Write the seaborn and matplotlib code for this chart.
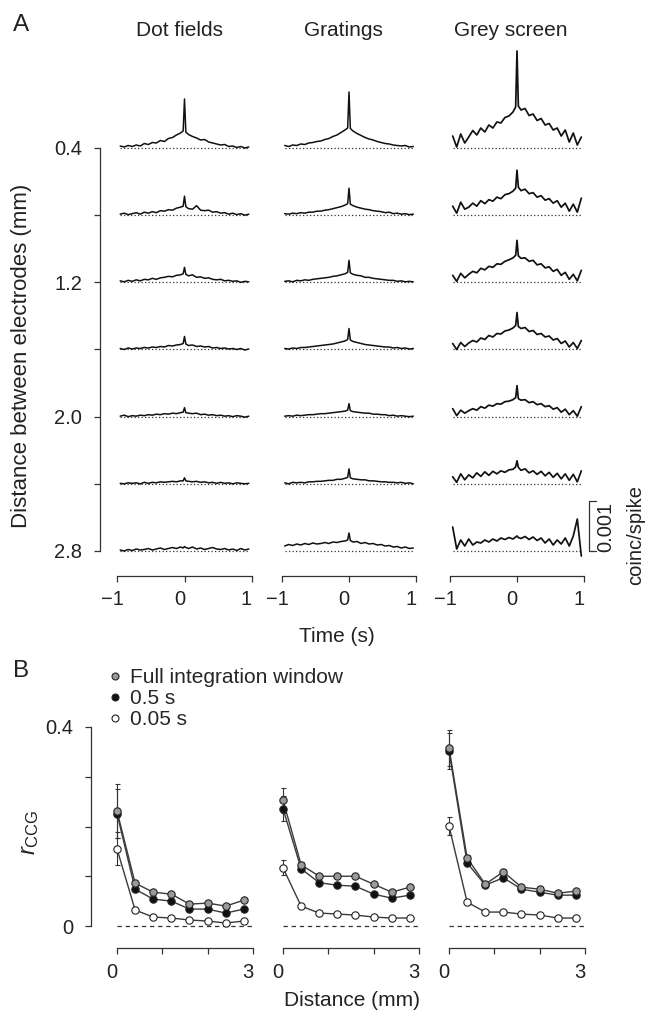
import numpy as np
import pandas as pd
import matplotlib
matplotlib.use("Agg")
import matplotlib.pyplot as plt
import matplotlib.transforms as mtransforms
from matplotlib.lines import Line2D
import seaborn as sns

sns.set_theme(style="ticks")
plt.rcParams['font.family'] = ['Liberation Sans', 'DejaVu Sans']
plt.rcParams['mathtext.fontset'] = 'custom'
plt.rcParams['mathtext.rm'] = 'Liberation Sans'
plt.rcParams['mathtext.it'] = 'Liberation Sans:italic'

# ------------------------------------------------------------------ data
conditions = ["Dot fields", "Gratings", "Grey screen"]
distances_A = [0.4, 0.8, 1.2, 1.6, 2.0, 2.4, 2.8]          # mm
dist_ticklabels_A = ["0.4", "", "1.2", "", "2.0", "", "2.8"]
time_ticks = [-1, 0, 1]
time_ticklabels = ["\u22121", "0", "1"]

lag_s = [-0.96, -0.90, -0.84, -0.78, -0.72, -0.66, -0.60, -0.54, -0.48, -0.42, -0.36, -0.30,
         -0.24, -0.18, -0.12, -0.06, -0.02, 0.0, 0.02, 0.06, 0.12, 0.18, 0.24, 0.30, 0.36,
         0.42, 0.48, 0.54, 0.60, 0.66, 0.72, 0.78, 0.84, 0.90, 0.96]

# CCG values in units of 1e-4 coinc/spike, one list per electrode distance
ccg_dot_fields = [
    [0.4,0.2,0.5,0.3,0.6,0.4,0.9,0.7,1.1,1.0,1.5,1.3,1.9,2.1,2.6,3.0,3.4,9.8,3.2,2.7,2.3,2.0,1.6,1.7,1.2,1.0,0.8,0.6,0.7,0.3,0.4,0.1,0.3,0.0,0.2],
    [0.2,0.4,0.1,0.3,0.5,0.2,0.6,0.4,0.7,0.5,0.9,0.8,1.1,1.0,1.4,1.6,1.8,3.8,1.7,1.3,1.2,1.9,1.0,0.9,1.0,0.6,0.7,0.4,0.5,0.2,0.4,0.1,0.3,0.0,0.2],
    [0.3,0.1,0.4,0.2,0.5,0.3,0.6,0.5,0.8,0.6,0.9,1.0,1.2,1.1,1.4,1.5,1.7,3.0,1.6,1.3,1.5,1.0,1.1,0.8,0.9,0.6,0.5,0.6,0.3,0.4,0.2,0.3,0.0,0.2,0.1],
    [0.2,0.0,0.3,0.1,0.3,0.2,0.4,0.3,0.5,0.4,0.6,0.5,0.8,0.7,0.9,1.0,1.2,2.6,1.1,0.8,0.9,0.6,0.7,0.5,0.6,0.3,0.4,0.2,0.3,0.1,0.2,0.0,0.2,-0.1,0.1],
    [0.1,0.3,0.0,0.2,0.1,0.3,0.2,0.4,0.3,0.5,0.4,0.6,0.5,0.7,0.6,0.8,0.9,1.8,0.8,0.7,0.6,0.7,0.4,0.5,0.3,0.4,0.2,0.3,0.1,0.2,0.0,0.2,0.1,-0.1,0.1],
    [0.1,0.0,0.2,0.1,0.2,0.0,0.3,0.1,0.3,0.2,0.4,0.3,0.4,0.5,0.4,0.6,0.6,1.2,0.6,0.5,0.4,0.5,0.3,0.4,0.2,0.3,0.1,0.3,0.1,0.2,0.0,0.2,0.1,0.0,0.1],
    [0.2,0.0,0.3,0.1,0.4,0.2,0.3,0.5,0.2,0.4,0.6,0.3,0.5,0.7,0.5,0.8,0.6,0.9,0.7,0.5,0.8,0.4,0.6,0.3,0.5,0.7,0.4,0.3,0.5,0.2,0.4,0.1,0.5,0.2,0.4],
]
ccg_gratings = [
    [0.5,0.3,0.6,0.5,0.8,0.7,1.0,1.1,1.3,1.4,1.7,1.9,2.3,2.6,3.1,3.6,4.0,11.2,3.9,3.4,2.9,2.5,2.1,1.8,1.6,1.3,1.1,0.9,0.8,0.6,0.5,0.4,0.5,0.2,0.3],
    [0.3,0.2,0.4,0.3,0.5,0.4,0.6,0.6,0.8,0.8,1.0,1.1,1.3,1.5,1.7,2.0,2.3,5.4,2.2,1.9,1.6,1.4,1.2,1.1,0.9,0.8,0.7,0.5,0.6,0.3,0.4,0.2,0.3,0.1,0.2],
    [0.2,0.3,0.1,0.4,0.3,0.5,0.4,0.6,0.7,0.8,0.9,1.0,1.2,1.3,1.5,1.7,2.0,4.4,1.9,1.6,1.4,1.3,1.0,1.0,0.8,0.7,0.6,0.5,0.4,0.4,0.2,0.3,0.1,0.2,0.1],
    [0.2,0.1,0.3,0.2,0.4,0.4,0.5,0.6,0.7,0.8,0.9,1.0,1.1,1.3,1.5,1.7,2.0,4.2,1.9,1.6,1.4,1.2,1.0,0.9,0.8,0.7,0.6,0.5,0.5,0.3,0.4,0.2,0.3,0.1,0.2],
    [0.1,0.2,0.1,0.3,0.2,0.3,0.4,0.4,0.5,0.6,0.6,0.7,0.8,0.9,1.0,1.1,1.3,2.6,1.2,1.0,0.9,0.8,0.7,0.7,0.5,0.5,0.4,0.4,0.2,0.3,0.1,0.2,0.1,0.0,0.1],
    [0.2,0.0,0.3,0.2,0.3,0.2,0.4,0.4,0.5,0.5,0.6,0.7,0.7,0.9,0.9,1.1,1.3,3.0,1.2,1.0,0.9,0.8,0.8,0.6,0.6,0.5,0.4,0.4,0.3,0.3,0.2,0.3,0.1,0.2,0.0],
    [1.0,1.3,1.1,1.4,1.2,1.5,1.3,1.6,1.4,1.5,1.7,1.5,1.8,1.7,1.9,2.0,2.2,3.6,2.1,1.8,1.9,1.5,1.7,1.4,1.5,1.2,1.3,1.0,1.1,0.8,0.9,0.6,0.8,0.5,0.6],
]
ccg_grey_screen = [
    [2.4,0.2,2.8,1.0,2.2,3.5,2.6,4.0,3.2,4.6,4.0,5.2,5.0,6.1,6.4,7.2,8.2,19.4,8.4,7.6,7.9,6.5,6.8,5.5,5.9,4.6,4.9,3.6,4.0,2.4,3.6,1.2,3.0,0.6,2.2],
    [1.8,0.4,2.6,1.2,1.6,2.4,1.8,2.9,2.3,3.1,2.8,3.6,3.3,4.1,4.3,4.8,5.4,9.0,5.6,4.9,5.2,4.3,4.5,3.6,3.9,3.0,3.3,2.4,2.9,1.6,2.4,0.8,2.2,0.6,3.4],
    [1.4,0.2,1.8,0.9,1.6,2.2,1.9,2.8,2.5,3.2,3.0,3.7,3.6,4.2,4.5,4.9,5.4,8.4,5.3,4.8,4.9,4.2,4.4,3.5,3.7,2.9,3.1,2.2,2.6,1.4,2.0,0.6,1.6,0.3,2.4],
    [1.2,0.0,1.4,0.6,1.3,1.8,1.5,2.3,2.0,2.8,2.5,3.2,3.1,3.7,3.9,4.3,4.8,7.4,4.6,4.2,4.4,3.6,3.8,3.0,3.2,2.5,2.7,1.9,2.2,1.2,1.7,0.5,1.4,0.2,1.8],
    [1.6,0.2,1.3,0.7,1.2,1.6,1.3,2.0,1.7,2.3,2.1,2.6,2.5,3.0,3.1,3.4,3.8,6.2,3.6,3.3,3.4,2.8,3.0,2.4,2.6,2.0,2.2,1.5,1.8,0.9,1.5,0.4,1.2,0.1,2.0],
    [1.4,0.3,2.0,0.8,1.8,1.2,2.2,1.5,2.4,1.7,2.5,2.0,2.6,2.3,2.8,2.9,3.4,4.6,3.3,2.7,3.0,2.2,2.6,1.9,2.5,1.6,2.3,1.3,2.1,1.0,2.0,0.7,1.9,0.4,2.6],
    [4.8,0.4,2.2,1.0,2.4,1.2,1.8,1.6,2.2,1.8,2.4,2.0,2.6,2.3,2.7,2.4,2.8,3.0,2.7,2.5,2.9,2.3,2.8,2.1,2.6,1.6,2.4,1.2,2.2,1.4,2.6,1.0,3.0,6.4,-1.0],
]
all_traces = [ccg_dot_fields, ccg_gratings, ccg_grey_screen]
scalebar_value = 10.0      # 10 x 1e-4 = 0.001 coinc/spike
scalebar_label = "0.001"

# Panel B
distance_B = [0.0, 0.4, 0.8, 1.2, 1.6, 2.0, 2.4, 2.8]
windows = ["Full integration window", "0.5 s", "0.05 s"]
r_full = {
    "Dot fields":  [0.231, 0.086, 0.068, 0.064, 0.044, 0.046, 0.040, 0.052],
    "Gratings":    [0.253, 0.123, 0.100, 0.100, 0.100, 0.084, 0.068, 0.078],
    "Grey screen": [0.358, 0.137, 0.084, 0.109, 0.078, 0.074, 0.066, 0.070],
}
r_half = {
    "Dot fields":  [0.226, 0.074, 0.054, 0.050, 0.034, 0.034, 0.026, 0.034],
    "Gratings":    [0.236, 0.115, 0.087, 0.082, 0.080, 0.064, 0.056, 0.062],
    "Grey screen": [0.352, 0.127, 0.082, 0.097, 0.074, 0.068, 0.062, 0.062],
}
r_short = {
    "Dot fields":  [0.155, 0.032, 0.018, 0.016, 0.012, 0.010, 0.006, 0.010],
    "Gratings":    [0.117, 0.040, 0.026, 0.024, 0.022, 0.018, 0.016, 0.016],
    "Grey screen": [0.201, 0.048, 0.028, 0.028, 0.024, 0.022, 0.016, 0.016],
}
err_full = {
    "Dot fields":  [0.055, 0.005, 0.004, 0.004, 0.004, 0.004, 0.004, 0.004],
    "Gratings":    [0.025, 0.005, 0.004, 0.004, 0.004, 0.004, 0.004, 0.004],
    "Grey screen": [0.036, 0.005, 0.004, 0.005, 0.004, 0.004, 0.004, 0.004],
}
err_half = {
    "Dot fields":  [0.050, 0.005, 0.004, 0.004, 0.004, 0.004, 0.004, 0.004],
    "Gratings":    [0.025, 0.005, 0.004, 0.004, 0.004, 0.004, 0.004, 0.004],
    "Grey screen": [0.036, 0.005, 0.004, 0.005, 0.004, 0.004, 0.004, 0.004],
}
err_short = {
    "Dot fields":  [0.033, 0.003, 0.002, 0.002, 0.002, 0.002, 0.002, 0.002],
    "Gratings":    [0.015, 0.003, 0.002, 0.002, 0.002, 0.002, 0.002, 0.002],
    "Grey screen": [0.018, 0.003, 0.002, 0.002, 0.002, 0.002, 0.002, 0.002],
}
r_ticks = [0.0, 0.1, 0.2, 0.3, 0.4]
r_ticklabels = ["0", "", "", "", "0.4"]
dist_ticks_B = [0, 1, 2, 3]
dist_ticklabels_B = ["0", "", "", "3"]

# ------------------------------------------------------------------ layout helpers
W, H = 646, 1011
fig = plt.figure(figsize=(W / 100, H / 100), dpi=100)
fig.patch.set_facecolor("white")
INK = "#222222"
AXC = "#333333"
FS_TICK = 14.5
FS_LAB = 15
LABEL_SHIFT = mtransforms.ScaledTranslation(-5 / 100, 0, fig.dpi_scale_trans)


def rect_px(left, top, right, bottom):
    return [left / W, 1 - bottom / H, (right - left) / W, (bottom - top) / H]


def ftext(x, y, s, **kw):
    fig.text(x / W, 1 - y / H, s, **kw)


def shift_xticklabels(ax):
    for lab in ax.get_xticklabels():
        lab.set_transform(lab.get_transform() + LABEL_SHIFT)


# ------------------------------------------------------------------ panel A
A_PX_04 = 148.0
A_PX_PER_MM = 403.0 / 2.4
A_Y_TOP, A_Y_BOT = -0.30, 2.95


def a_ypx(d):
    return A_PX_04 + (d - 0.4) * A_PX_PER_MM


A_COL_CX = [184.5, 349.0, 517.0]
A_TITLE_X = [180, 343, 511]
A_PX_PER_S = 67.0
A_XLIM = (-1.05, 1.05)
MM_PER_UNIT = 5.0 / A_PX_PER_MM     # 1e-4 coinc/spike drawn as 5 px
TRACE_LW = [1.1, 1.1, 1.25]

for i, (cond, traces) in enumerate(zip(conditions, all_traces)):
    cx = A_COL_CX[i]
    ax = fig.add_axes(rect_px(cx + A_XLIM[0] * A_PX_PER_S, a_ypx(A_Y_TOP),
                              cx + A_XLIM[1] * A_PX_PER_S, a_ypx(A_Y_BOT)))
    ax.set_facecolor("none")
    rows = []
    for d, vals in zip(distances_A, traces):
        for t, v in zip(lag_s, vals):
            rows.append({"lag": t, "y": d - v * MM_PER_UNIT, "dist": d})
    df = pd.DataFrame(rows)
    ax.hlines(distances_A, lag_s[0], lag_s[-1], colors=AXC,
              linestyles=(0, (1, 1.8)), lw=0.9)
    sns.lineplot(data=df, x="lag", y="y", units="dist", estimator=None, sort=False,
                 color="#111111", lw=TRACE_LW[i], ax=ax)
    ax.set_xlim(*A_XLIM)
    ax.set_ylim(A_Y_BOT, A_Y_TOP)
    ax.set_xlabel("")
    ax.set_ylabel("")
    for s in ["top", "right", "left"]:
        ax.spines[s].set_visible(False)
    ax.spines["bottom"].set_bounds(-1, 1)
    ax.spines["bottom"].set_linewidth(0.9)
    ax.spines["bottom"].set_color(AXC)
    ax.set_xticks(time_ticks)
    ax.set_xticklabels(time_ticklabels)
    ax.set_yticks([])
    ax.tick_params(axis="x", direction="out", length=4.3, width=0.9, color=AXC,
                   pad=5.5, labelsize=FS_TICK, labelcolor=INK)
    shift_xticklabels(ax)
    ftext(A_TITLE_X[i], 31, cond, ha="center", va="center", fontsize=FS_LAB, color=INK)
    if i == 2:
        sb_x = 1.08
        y0 = distances_A[-1]
        y1 = distances_A[-1] - scalebar_value * MM_PER_UNIT
        ax.plot([sb_x + 0.1, sb_x, sb_x, sb_x + 0.1], [y1, y1, y0, y0],
                color=AXC, lw=0.9, clip_on=False)

# left distance axis of panel A
axL = fig.add_axes(rect_px(100, a_ypx(A_Y_TOP), 110, a_ypx(A_Y_BOT)))
axL.set_facecolor("none")
axL.set_ylim(A_Y_BOT, A_Y_TOP)
axL.set_xticks([])
for s in ["top", "right", "bottom"]:
    axL.spines[s].set_visible(False)
axL.spines["left"].set_bounds(distances_A[0], distances_A[-1])
axL.spines["left"].set_linewidth(0.9)
axL.spines["left"].set_color(AXC)
axL.set_yticks(distances_A)
axL.set_yticklabels(dist_ticklabels_A)
axL.tick_params(axis="y", direction="out", length=4.5, width=0.9, color=AXC,
                pad=8.5, labelsize=FS_TICK, labelcolor=INK)

ftext(21, 25, "A", ha="center", va="center", fontsize=17.5, color=INK)
ftext(22, 356, "Distance between electrodes (mm)", rotation=90, ha="center",
      va="center", fontsize=16, color=INK)
ftext(337, 637, "Time (s)", ha="center", va="center", fontsize=FS_LAB, color=INK)
ftext(606, 527, scalebar_label, rotation=90, ha="center", va="center",
      fontsize=FS_TICK, color=INK)
ftext(636, 535, "coinc/spike", rotation=90, ha="center", va="center",
      fontsize=FS_TICK, color=INK)

# ------------------------------------------------------------------ panel B
B_PX_0 = 926.0
B_PX_PER_R = 497.5
B_YLIM = (-0.0442, 0.42)


def b_ypx(v):
    return B_PX_0 - v * B_PX_PER_R


B_X0 = [117.0, 283.0, 449.0]
B_PX_PER_MM = 45.3
face = {"Full integration window": "#9a9a9a", "0.5 s": "#111111", "0.05 s": "#ffffff"}
draw_order = ["0.05 s", "0.5 s", "Full integration window"]

for i, cond in enumerate(conditions):
    xl = (-0.574 if i == 0 else -0.25, 3.25)
    ax = fig.add_axes(rect_px(B_X0[i] + xl[0] * B_PX_PER_MM, b_ypx(B_YLIM[1]),
                              B_X0[i] + xl[1] * B_PX_PER_MM, b_ypx(B_YLIM[0])))
    ax.set_facecolor("none")
    recs = []
    for w, rv, ev in [("Full integration window", r_full, err_full),
                      ("0.5 s", r_half, err_half), ("0.05 s", r_short, err_short)]:
        for d, r, e in zip(distance_B, rv[cond], ev[cond]):
            recs.append({"distance": d, "r": r, "err": e, "window": w})
    df = pd.DataFrame(recs)
    ax.plot([0, 3], [0, 0], color=AXC, lw=0.9, ls=(0, (3.5, 3)), zorder=1)
    for k, w in enumerate(draw_order):
        sub = df[df["window"] == w]
        sns.lineplot(data=sub, x="distance", y="r", estimator=None, sort=False,
                     color="#3a3a3a", lw=1.0, ax=ax, zorder=2 + k)
        ax.errorbar(sub["distance"], sub["r"], yerr=sub["err"], fmt="none",
                    ecolor=AXC, elinewidth=0.8, capsize=1.8, capthick=0.8,
                    zorder=2 + k)
        sns.scatterplot(data=sub, x="distance", y="r", color=face[w], edgecolor=INK,
                        s=28, linewidth=0.8, ax=ax, zorder=5 + k)
    ax.set_xlim(*xl)
    ax.set_ylim(*B_YLIM)
    ax.set_xlabel("")
    ax.set_ylabel("")
    for s in ["top", "right"]:
        ax.spines[s].set_visible(False)
    ax.spines["bottom"].set_bounds(0, 3)
    ax.spines["bottom"].set_linewidth(0.9)
    ax.spines["bottom"].set_color(AXC)
    ax.set_xticks(dist_ticks_B)
    ax.set_xticklabels(dist_ticklabels_B)
    ax.tick_params(axis="x", direction="out", length=4.3, width=0.9, color=AXC,
                   pad=6.5, labelsize=FS_TICK, labelcolor=INK)
    shift_xticklabels(ax)
    if i == 0:
        ax.spines["left"].set_bounds(0, 0.4)
        ax.spines["left"].set_linewidth(0.9)
        ax.spines["left"].set_color(AXC)
        ax.set_yticks(r_ticks)
        ax.set_yticklabels(r_ticklabels)
        ax.tick_params(axis="y", direction="out", length=4.5, width=0.9,
                       color=AXC, pad=8.5, labelsize=FS_TICK, labelcolor=INK)
    else:
        ax.spines["left"].set_visible(False)
        ax.set_yticks([])

handles = [Line2D([], [], ls="none", marker="o", ms=5, mfc=face[w], mec=INK, mew=0.8)
           for w in windows]
fig.legend(handles, windows, loc="upper left", bbox_to_anchor=(107 / W, 1 - 668 / H),
           frameon=False, fontsize=FS_LAB, handlelength=0.8, handletextpad=0.3,
           labelspacing=0.1, borderpad=0, borderaxespad=0)

ftext(21, 671, "B", ha="center", va="center", fontsize=17.5, color=INK)
ftext(30, 832, r"$r_{\mathrm{CCG}}$", rotation=90, ha="center", va="center",
      fontsize=17, color=INK)
ftext(352, 1001, "Distance (mm)", ha="center", va="center", fontsize=FS_LAB, color=INK)

fig.savefig("out.png", dpi=100, facecolor="white")
